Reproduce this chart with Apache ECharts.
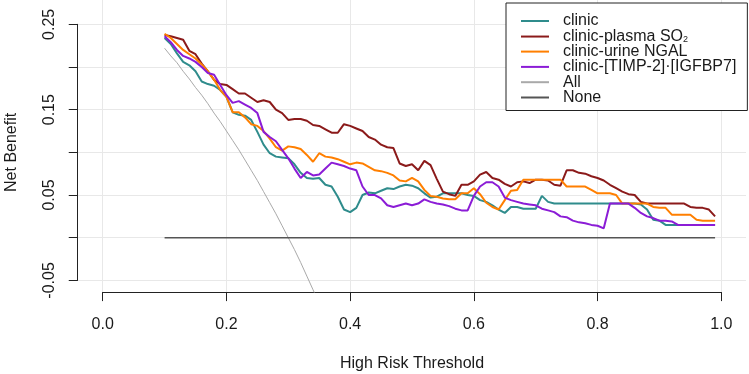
<!DOCTYPE html>
<html>
<head>
<meta charset="utf-8">
<script src="https://cdn.jsdelivr.net/npm/echarts@6/dist/echarts.min.js"></script>
<style>
  html, body { margin: 0; padding: 0; background: #fff; }
  #chart { width: 749px; height: 374px; }
</style>
</head>
<body>
<div id="chart"></div>
<script>
const thresholds = [
  0.10, 0.11, 0.12, 0.13, 0.14, 0.15, 0.16, 0.17, 0.18, 0.19,
  0.20, 0.21, 0.22, 0.23, 0.24, 0.25, 0.26, 0.27, 0.28, 0.29,
  0.30, 0.31, 0.32, 0.33, 0.34, 0.35, 0.36, 0.37, 0.38, 0.39,
  0.40, 0.41, 0.42, 0.43, 0.44, 0.45, 0.46, 0.47, 0.48, 0.49,
  0.50, 0.51, 0.52, 0.53, 0.54, 0.55, 0.56, 0.57, 0.58, 0.59,
  0.60, 0.61, 0.62, 0.63, 0.64, 0.65, 0.66, 0.67, 0.68, 0.69,
  0.70, 0.71, 0.72, 0.73, 0.74, 0.75, 0.76, 0.77, 0.78, 0.79,
  0.80, 0.81, 0.82, 0.83, 0.84, 0.85, 0.86, 0.87, 0.88, 0.89,
  0.90, 0.91, 0.92, 0.93, 0.94, 0.95, 0.96, 0.97, 0.98, 0.99
];

const clinic = [
  0.234, 0.227, 0.216, 0.206, 0.202, 0.195, 0.183, 0.180, 0.178, 0.173,
  0.165, 0.147, 0.144, 0.143, 0.138, 0.124, 0.109, 0.099, 0.095, 0.094,
  0.093, 0.086, 0.076, 0.070, 0.069, 0.070, 0.062, 0.060, 0.048, 0.033,
  0.030, 0.035, 0.050, 0.053, 0.052, 0.055, 0.058, 0.057, 0.060, 0.062,
  0.061, 0.058, 0.052, 0.047, 0.048, 0.052, 0.052, 0.052, 0.052, 0.050,
  0.049, 0.044, 0.042, 0.038, 0.033, 0.029, 0.036, 0.036, 0.034, 0.034,
  0.034, 0.049, 0.042, 0.040, 0.040, 0.040, 0.040, 0.040, 0.040, 0.040,
  0.040, 0.040, 0.040, 0.040, 0.040, 0.040, 0.040, 0.039, 0.033, 0.021,
  0.020, 0.015, 0.015, 0.015, 0.015, 0.015, 0.015, 0.015, 0.015, 0.015
];

const plasmaSO2 = [
  0.2375, 0.236, 0.234, 0.232, 0.219, 0.215, 0.204, 0.195, 0.185, 0.180,
  0.179, 0.174, 0.169, 0.169, 0.164, 0.159, 0.161, 0.159, 0.150, 0.146,
  0.138, 0.139, 0.139, 0.137, 0.132, 0.131, 0.127, 0.123, 0.123, 0.133,
  0.131, 0.128, 0.125, 0.118, 0.115, 0.109, 0.106, 0.105, 0.087, 0.084,
  0.086, 0.079, 0.090, 0.085, 0.069, 0.054, 0.051, 0.049, 0.062, 0.062,
  0.066, 0.074, 0.077, 0.070, 0.068, 0.063, 0.060, 0.065, 0.066, 0.064,
  0.068, 0.068, 0.067, 0.062, 0.061, 0.079, 0.079, 0.076, 0.075, 0.072,
  0.070, 0.067, 0.062, 0.058, 0.054, 0.051, 0.050, 0.042, 0.040, 0.040,
  0.040, 0.040, 0.040, 0.040, 0.040, 0.036, 0.035, 0.035, 0.033, 0.025
];

const urineNGAL = [
  0.239, 0.234, 0.227, 0.220, 0.215, 0.210, 0.203, 0.195, 0.185, 0.173,
  0.165, 0.147, 0.147, 0.141, 0.133, 0.131, 0.125, 0.116, 0.106, 0.102,
  0.107, 0.106, 0.104, 0.097, 0.089, 0.099, 0.095, 0.094, 0.092, 0.089,
  0.086, 0.088, 0.087, 0.083, 0.079, 0.078, 0.076, 0.073, 0.067, 0.066,
  0.070, 0.066, 0.056, 0.049, 0.048, 0.046, 0.045, 0.045, 0.052, 0.052,
  0.058, 0.051, 0.041, 0.036, 0.033, 0.044, 0.055, 0.056, 0.068, 0.068,
  0.068, 0.068, 0.068, 0.068, 0.068, 0.060, 0.060, 0.060, 0.060, 0.056,
  0.052, 0.052, 0.052, 0.050, 0.040, 0.040, 0.040, 0.040, 0.040, 0.036,
  0.035, 0.035, 0.027, 0.027, 0.027, 0.027, 0.021, 0.020, 0.020, 0.020
];

const timpIgfbp = [
  0.236, 0.229, 0.220, 0.213, 0.210, 0.206, 0.200, 0.193, 0.191, 0.179,
  0.167, 0.158, 0.160, 0.156, 0.152, 0.146, 0.124, 0.118, 0.113, 0.103,
  0.093, 0.081, 0.070, 0.077, 0.073, 0.074, 0.081, 0.088, 0.086, 0.084,
  0.081, 0.079, 0.060, 0.050, 0.050, 0.046, 0.038, 0.036, 0.038, 0.040,
  0.038, 0.040, 0.045, 0.042, 0.040, 0.039, 0.037, 0.034, 0.032, 0.032,
  0.049, 0.060, 0.065, 0.065, 0.060, 0.047, 0.044, 0.042, 0.040, 0.039,
  0.038, 0.034, 0.032, 0.030, 0.025, 0.024, 0.020, 0.018, 0.017, 0.015,
  0.014, 0.011, 0.040, 0.040, 0.040, 0.040, 0.035, 0.029, 0.025, 0.023,
  0.020, 0.020, 0.019, 0.015, 0.015, 0.015, 0.015, 0.015, 0.015, 0.015
];

// treat-all curve, runs off the bottom of the plot
const allThresholds = [
  0.10, 0.11, 0.12, 0.13, 0.14, 0.15, 0.16, 0.17, 0.18, 0.19,
  0.20, 0.21, 0.22, 0.23, 0.24, 0.25, 0.26, 0.27, 0.28, 0.29,
  0.30, 0.31, 0.32, 0.33, 0.34, 0.35
];
const allNB = [
  0.222, 0.213, 0.205, 0.195, 0.186, 0.176, 0.167, 0.157, 0.146, 0.136,
  0.125, 0.114, 0.103, 0.091, 0.079, 0.067, 0.054, 0.041, 0.028, 0.014,
  0.000, -0.014, -0.029, -0.045, -0.061, -0.077
];

const noneThresholds = [0.10, 0.99];
const noneNB = [0, 0];

const xTicks = [0, 0.2, 0.4, 0.6, 0.8, 1.0];
const yTicks = [-0.05, 0, 0.05, 0.10, 0.15, 0.20, 0.25];

const seriesNames = ["clinic", "clinic-plasma SO2", "clinic-urine NGAL", "clinic-[TIMP-2]\u00b7[IGFBP7]", "All", "None"];
const seriesColors = ["#2f8c8c", "#8b1a1a", "#ff7f00", "#8b1cd6", "#a9a9a9", "#555555"];

const FONT = "Liberation Sans";
const pair = (xs, ys) => xs.map((x, i) => [x, ys[i]]);

const chart = echarts.init(document.getElementById("chart"), null, { renderer: "canvas" });

const lineSeries = (idx, xs, ys, width) => ({
  name: seriesNames[idx],
  type: "line",
  xAxisIndex: 0,
  yAxisIndex: 0,
  data: pair(xs, ys),
  symbol: "none",
  showSymbol: false,
  animation: false,
  clip: true,
  lineStyle: { color: seriesColors[idx], width: width },
  itemStyle: { color: seriesColors[idx] },
});

chart.setOption({
  animation: false,
  backgroundColor: "#fff",
  textStyle: { fontFamily: FONT },
  grid: [
    // whole plot region (grid lines + data)
    { left: 78, right: 3, top: 0, bottom: 82, containLabel: false, outerBoundsMode: "none" },
    // tick range (axes only)
    { left: 102.74, right: 27.74, top: 24.33, bottom: 93.6, containLabel: false, outerBoundsMode: "none" },
  ],
  xAxis: [
    {
      type: "value", gridIndex: 0, min: -0.04, max: 1.04,
      axisLine: { show: false },
      axisLabel: { show: false, customValues: xTicks },
      axisTick: { show: false, customValues: xTicks },
      splitLine: { show: true, lineStyle: { color: "#e8e8e8", width: 1 } },
    },
    {
      type: "value", gridIndex: 1, min: 0, max: 1, interval: 0.2, offset: 11.7,
      axisLine: { show: true, onZero: false, lineStyle: { color: "#222", width: 1 } },
      axisTick: { show: true, length: 9, lineStyle: { color: "#222", width: 1 } },
      axisLabel: { fontSize: 16, color: "#1a1a1a", margin: 24, fontFamily: FONT, formatter: (v) => v.toFixed(1) },
      splitLine: { show: false },
      name: "High Risk Threshold", nameLocation: "middle", nameGap: 63,
      nameTextStyle: { fontSize: 16, color: "#1a1a1a", fontFamily: FONT },
    },
  ],
  yAxis: [
    {
      type: "value", gridIndex: 0, min: -0.0636, max: 0.2785,
      axisLine: { show: false },
      axisLabel: { show: false, customValues: yTicks },
      axisTick: { show: false, customValues: yTicks },
      splitLine: { show: true, lineStyle: { color: "#e8e8e8", width: 1 } },
    },
    {
      type: "value", gridIndex: 1, min: -0.05, max: 0.25, interval: 0.05, offset: 25,
      axisLine: { show: true, onZero: false, lineStyle: { color: "#222", width: 1 } },
      axisTick: { show: true, length: 9, lineStyle: { color: "#222", width: 1 } },
      axisLabel: {
        fontSize: 16, color: "#1a1a1a", margin: 20, rotate: 90, fontFamily: FONT,
        align: "center", verticalAlign: "bottom",
        formatter: (v, i) => (i % 2 === 0 ? v.toFixed(2) : ""),
      },
      splitLine: { show: false },
      name: "Net Benefit", nameLocation: "middle", nameGap: 58.5,
      nameTextStyle: { fontSize: 16, color: "#1a1a1a", fontFamily: FONT },
    },
  ],
  legend: {
    orient: "vertical",
    left: 506,
    top: 3,
    padding: [10, 11, 5, 14],
    itemWidth: 28,
    itemHeight: 12,
    itemGap: -0.7,
    backgroundColor: "#fff",
    borderColor: "#222",
    borderWidth: 1,
    borderRadius: 0,
    itemStyle: { opacity: 0 },
    data: seriesNames,
    formatter: (name) => (name === "clinic-plasma SO2" ? "{n|clinic-plasma SO}{s|2}" : name),
    textStyle: {
      fontSize: 16, color: "#1a1a1a", fontFamily: FONT, lineHeight: 15.5, padding: [0, 0, 0, 9],
      rich: {
        n: { fontSize: 16, color: "#1a1a1a", fontFamily: FONT, lineHeight: 15.5, verticalAlign: "bottom" },
        s: { fontSize: 9, color: "#1a1a1a", fontFamily: FONT, lineHeight: 15.5, verticalAlign: "bottom" },
      },
    },
  },
  series: [
    lineSeries(0, thresholds, clinic, 2),
    lineSeries(1, thresholds, plasmaSO2, 2),
    lineSeries(2, thresholds, urineNGAL, 2),
    lineSeries(3, thresholds, timpIgfbp, 2),
    lineSeries(4, allThresholds, allNB, 1),
    lineSeries(5, noneThresholds, noneNB, 1.6),
  ],
});
</script>
</body>
</html>
